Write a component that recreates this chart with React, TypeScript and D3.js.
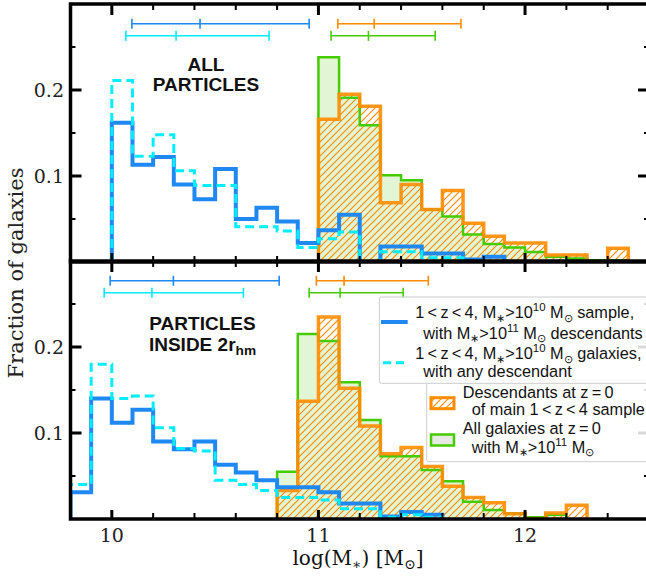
import React from 'react';
import * as d3 from 'd3';

// ---------- data ----------
const BIN_EDGES = [9.8, 9.9, 10.0, 10.1, 10.2, 10.3, 10.4, 10.5, 10.6, 10.7, 10.8, 10.9, 11.0, 11.1, 11.2, 11.3, 11.4, 11.5, 11.6, 11.7, 11.8, 11.9, 12.0, 12.1, 12.2, 12.3, 12.4, 12.5, 12.6];

// top panel: ALL PARTICLES
const TOP_SAMPLE = [0, 0, 0.162, 0.113, 0.122, 0.090, 0.073, 0.108, 0.050, 0.063, 0.047, 0.022, 0.037, 0.055, 0, 0.018, 0.018, 0.010, 0.010, 0.003, 0.006, 0, 0, 0, 0, 0, 0, 0];
const TOP_ANY = [0, 0, 0.211, 0.123, 0.148, 0.106, 0.089, 0.089, 0.041, 0.041, 0.036, 0.017, 0.027, 0.035, 0, 0.012, 0.012, 0.005, 0.005, 0, 0, 0, 0, 0, 0, 0, 0, 0];
const TOP_DESC = [0, 0, 0, 0, 0, 0, 0, 0, 0, 0, 0, 0, 0.166, 0.195, 0.181, 0.069, 0.090, 0.061, 0.083, 0.045, 0.030, 0.022, 0.022, 0.008, 0.008, 0, 0.016, 0];
const TOP_ALLZ0 = [0, 0, 0, 0, 0, 0, 0, 0, 0, 0, 0, 0, 0.238, 0.191, 0.159, 0.101, 0.095, 0.061, 0.053, 0.032, 0.021, 0.017, 0.0115, 0.006, 0.004, 0.002, 0.002, 0];

// bottom panel: PARTICLES INSIDE 2r_hm
const BOT_SAMPLE = [0.031, 0.140, 0.112, 0.127, 0.090, 0.081, 0.090, 0.063, 0.054, 0.045, 0.037, 0.037, 0.031, 0.018, 0.018, 0.003, 0.008, 0.005, 0, 0, 0, 0, 0, 0, 0, 0, 0, 0];
const BOT_ANY = [0.040, 0.180, 0.140, 0.143, 0.106, 0.082, 0.079, 0.045, 0.040, 0.033, 0.025, 0.025, 0.022, 0.012, 0.012, 0.002, 0.005, 0.002, 0, 0, 0, 0, 0, 0, 0, 0, 0, 0];
const BOT_DESC = [0, 0, 0, 0, 0, 0, 0, 0, 0, 0, 0.033, 0.137, 0.235, 0.152, 0.108, 0.076, 0.083, 0.061, 0.038, 0.025, 0.019, 0.006, 0, 0.007, 0.016, 0, 0, 0];
const BOT_ALLZ0 = [0, 0, 0, 0, 0, 0, 0, 0, 0, 0, 0.055, 0.215, 0.207, 0.159, 0.115, 0.073, 0.073, 0.057, 0.044, 0.020, 0.0105, 0.0066, 0.002, 0.005, 0, 0, 0, 0];

// error bars: [low, median, high] and their heights
const ERR_ROW_Y = [0.277, 0.263];
const TOP_ERR_SAMPLE = [10.097, 10.427, 10.955];
const TOP_ERR_ANY = [10.068, 10.311, 10.761];
const TOP_ERR_DESC = [11.094, 11.27, 11.69];
const TOP_ERR_ALLZ0 = [11.061, 11.242, 11.565];
const BOT_ERR_SAMPLE = [9.992, 10.298, 10.81];
const BOT_ERR_ANY = [9.963, 10.194, 10.637];
const BOT_ERR_DESC = [10.99, 11.124, 11.532];
const BOT_ERR_ALLZ0 = [10.955, 11.105, 11.41];

const X_MAJOR = [10, 11, 12];
const X_MINOR = [10.2, 10.4, 10.6, 10.8, 11.2, 11.4, 11.6, 11.8, 12.2, 12.4];
const Y_MAJOR = [0.1, 0.2];
const Y_MINOR = [0.05, 0.15, 0.25];
const X_DOMAIN = [9.8, 12.6];
const Y_DOMAIN = [0, 0.3];

// ---------- style ----------
const BLUE = '#1f88f2';
const CYAN = '#00eeff';
const ORANGE = '#ff8c00';
const GREEN = '#44cc00';
const GREEN_FILL = '#e2f6d6';
const SERIF = '"DejaVu Serif", serif';
const SANS = '"Liberation Sans", Arial, sans-serif';

const W = 646, H = 576;
const X0 = 70.5, X1 = 649;
const x = d3.scaleLinear().domain(X_DOMAIN).range([X0, X1]);

type Seg = { t: string; k?: 'sup' | 'sub' };

function Rich({ x, y, segs, size, family, anchor, weight, subScale = 0.7 }: any) {
  let cur = 0;
  return (
    <text x={x} y={y} fontSize={size} fontFamily={family} textAnchor={anchor || 'start'} fontWeight={weight || 'normal'} fill="#111">
      {segs.map((s: Seg, i: number) => {
        const target = s.k === 'sup' ? -0.42 * size : s.k === 'sub' ? 0.22 * size : 0;
        const dy = target - cur;
        cur = target;
        return (
          <tspan key={i} dy={dy} fontSize={s.k ? size * subScale : size}>{s.t}</tspan>
        );
      })}
    </text>
  );
}

function stepPoints(vals: number[]) {
  const i0 = vals.findIndex((v) => v > 0);
  let i1 = vals.length - 1;
  while (i1 > 0 && !(vals[i1] > 0)) i1--;
  const pts: [number, number][] = [[BIN_EDGES[i0], 0]];
  for (let k = i0; k <= i1; k++) {
    pts.push([BIN_EDGES[k], vals[k]]);
    pts.push([BIN_EDGES[k + 1], vals[k]]);
  }
  pts.push([BIN_EDGES[i1 + 1], 0]);
  return pts;
}

function ErrBar({ vals, yv, y, color }: any) {
  const yy = y(yv);
  return (
    <g stroke={color} strokeWidth={1.6}>
      <line x1={x(vals[0])} x2={x(vals[2])} y1={yy} y2={yy} />
      {vals.map((v: number, i: number) => (
        <line key={i} x1={x(v)} x2={x(v)} y1={yy - 5} y2={yy + 5} />
      ))}
    </g>
  );
}

function Panel({ id, top, bottom, sample, any, desc, allz0, errs }: any) {
  const y = d3.scaleLinear().domain(Y_DOMAIN).range([bottom, top]);
  const line = d3.line<[number, number]>().x((d) => x(d[0])).y((d) => y(d[1]));
  const area = (v: number[]) => line(stepPoints(v)) + 'Z';
  return (
    <g>
      <defs>
        <clipPath id={`clip-${id}`}>
          <rect x={X0} y={top} width={X1 - X0} height={bottom - top} />
        </clipPath>
      </defs>
      <g clipPath={`url(#clip-${id})`}>
        <path d={area(allz0)} fill={GREEN_FILL} stroke="none" />
        <path d={area(desc)} fill="url(#hatch)" stroke="none" />
        <path d={line(stepPoints(allz0)) || ''} fill="none" stroke={GREEN} strokeWidth={2.5} />
        <path d={line(stepPoints(desc)) || ''} fill="none" stroke={ORANGE} strokeWidth={3.5} strokeOpacity={0.9} />
        <path d={line(stepPoints(sample)) || ''} fill="none" stroke={BLUE} strokeWidth={4} />
        <path d={line(stepPoints(any)) || ''} fill="none" stroke={CYAN} strokeWidth={3} strokeDasharray="9,5" />
      </g>
      <ErrBar vals={errs[0]} yv={ERR_ROW_Y[0]} y={y} color={BLUE} />
      <ErrBar vals={errs[1]} yv={ERR_ROW_Y[1]} y={y} color={CYAN} />
      <ErrBar vals={errs[2]} yv={ERR_ROW_Y[0]} y={y} color={ORANGE} />
      <ErrBar vals={errs[3]} yv={ERR_ROW_Y[1]} y={y} color={GREEN} />
      {/* ticks */}
      <g stroke="#000">
        {X_MAJOR.map((t) => (
          <g key={'xM' + t} strokeWidth={3}>
            <line x1={x(t)} x2={x(t)} y1={top} y2={top + 11} />
            <line x1={x(t)} x2={x(t)} y1={bottom} y2={bottom - 9} />
          </g>
        ))}
        {X_MINOR.map((t) => (
          <g key={'xm' + t} strokeWidth={2}>
            <line x1={x(t)} x2={x(t)} y1={top} y2={top + 6} />
            <line x1={x(t)} x2={x(t)} y1={bottom} y2={bottom - 6} />
          </g>
        ))}
        {Y_MAJOR.map((t) => (
          <g key={'yM' + t} strokeWidth={3}>
            <line x1={X0} x2={X0 + 11} y1={y(t)} y2={y(t)} />
            <line x1={X1} x2={X1 - 11} y1={y(t)} y2={y(t)} />
          </g>
        ))}
        {Y_MINOR.map((t) => (
          <g key={'ym' + t} strokeWidth={2}>
            <line x1={X0} x2={X0 + 5} y1={y(t)} y2={y(t)} />
            <line x1={X1} x2={X1 - 5} y1={y(t)} y2={y(t)} />
          </g>
        ))}
      </g>
      {Y_MAJOR.map((t) => (
        <text key={'yl' + t} x={64} y={y(t)} dy="0.36em" textAnchor="end" fontFamily={SERIF} fontSize={19} fill="#222">
          {d3.format('.1f')(t)}
        </text>
      ))}
      <rect x={X0} y={top} width={X1 - X0} height={bottom - top} fill="none" stroke="#000" strokeWidth={3.5} />
    </g>
  );
}

const TS = '\u2009';
const LEG1: Seg[][] = [
  [{ t: `1${TS}<${TS}z${TS}<${TS}4, M` }, { t: '∗', k: 'sub' }, { t: '>10' }, { t: '10', k: 'sup' }, { t: ' M' }, { t: '⊙', k: 'sub' }, { t: ' sample,' }],
  [{ t: 'with M' }, { t: '∗', k: 'sub' }, { t: '>10' }, { t: '11', k: 'sup' }, { t: ' M' }, { t: '⊙', k: 'sub' }, { t: ' descendants' }],
  [{ t: `1${TS}<${TS}z${TS}<${TS}4, M` }, { t: '∗', k: 'sub' }, { t: '>10' }, { t: '10', k: 'sup' }, { t: ' M' }, { t: '⊙', k: 'sub' }, { t: ' galaxies,' }],
  [{ t: 'with any descendant' }],
];
const LEG2: Seg[][] = [
  [{ t: `Descendants at z${TS}=${TS}0` }],
  [{ t: `of main 1${TS}<${TS}z${TS}<${TS}4 sample` }],
  [{ t: `All galaxies at z${TS}=${TS}0` }],
  [{ t: 'with M' }, { t: '∗', k: 'sub' }, { t: '>10' }, { t: '11', k: 'sup' }, { t: ' M' }, { t: '⊙', k: 'sub' }],
];

export default function App() {
  const LS = 16.3;
  return (
    <svg width={W} height={H} style={{ position: 'absolute', left: 0, top: 0, background: '#fff' }} xmlns="http://www.w3.org/2000/svg">
      <defs>
        <pattern id="hatch" patternUnits="userSpaceOnUse" width="7" height="7">
          <path d="M-1,1 l2,-2 M0,7 l7,-7 M6,8 l2,-2" stroke={ORANGE} strokeWidth={1.2} />
        </pattern>
      </defs>
      <rect x={0} y={0} width={W} height={H} fill="#fff" />
      <Panel id="top" top={4} bottom={262} sample={TOP_SAMPLE} any={TOP_ANY} desc={TOP_DESC} allz0={TOP_ALLZ0}
        errs={[TOP_ERR_SAMPLE, TOP_ERR_ANY, TOP_ERR_DESC, TOP_ERR_ALLZ0]} />
      <Panel id="bot" top={261} bottom={519} sample={BOT_SAMPLE} any={BOT_ANY} desc={BOT_DESC} allz0={BOT_ALLZ0}
        errs={[BOT_ERR_SAMPLE, BOT_ERR_ANY, BOT_ERR_DESC, BOT_ERR_ALLZ0]} />

      {/* panel titles */}
      <text x={206} y={70.7} textAnchor="middle" fontFamily={SANS} fontWeight="bold" fontSize={19} fill="#111">ALL</text>
      <text x={206} y={90.7} textAnchor="middle" fontFamily={SANS} fontWeight="bold" fontSize={19} fill="#111">PARTICLES</text>
      <text x={202.5} y={330} textAnchor="middle" fontFamily={SANS} fontWeight="bold" fontSize={19} fill="#111">PARTICLES</text>
      <Rich x={202.5} y={350.7} anchor="middle" family={SANS} weight="bold" size={19} subScale={0.72}
        segs={[{ t: 'INSIDE 2r' }, { t: 'hm', k: 'sub' }]} />

      {/* x tick labels */}
      {X_MAJOR.map((t) => (
        <text key={'xl' + t} x={x(t)} y={542.3} textAnchor="middle" fontFamily={SERIF} fontSize={19} fill="#222">{t}</text>
      ))}
      <Rich x={358} y={565} anchor="middle" family={SERIF} size={20} subScale={0.7}
        segs={[{ t: 'log(M' }, { t: '∗', k: 'sub' }, { t: ') [M' }, { t: '⊙', k: 'sub' }, { t: ']' }]} />
      <text transform="translate(23,273) rotate(-90)" textAnchor="middle" fontFamily={SERIF} fontSize={21} fill="#222">Fraction of galaxies</text>

      {/* legend 2 (behind) */}
      <rect x={426.7} y={380} width={230} height={81.7} fill="#fff" fillOpacity={0.85} stroke="#cccccc" strokeWidth={1} rx={2} />
      <rect x={431} y={397.7} width={23} height={11} fill="url(#hatch)" stroke={ORANGE} strokeWidth={3} />
      <rect x={431} y={434.5} width={23} height={11} fill="#e6e8e4" stroke={GREEN} strokeWidth={2.5} />
      <Rich x={462.7} y={397.7} family={SANS} size={LS} segs={LEG2[0]} />
      <Rich x={471.7} y={414.5} family={SANS} size={LS} segs={LEG2[1]} />
      <Rich x={462.7} y={434.3} family={SANS} size={LS} segs={LEG2[2]} />
      <Rich x={471.7} y={452.7} family={SANS} size={LS} segs={LEG2[3]} />

      {/* legend 1 */}
      <rect x={379.3} y={297} width={280} height={86.3} fill="#fff" fillOpacity={0.85} stroke="#cccccc" strokeWidth={1} rx={2} />
      <line x1={381} x2={407.7} y1={322} y2={322} stroke={BLUE} strokeWidth={4} />
      <line x1={383} x2={407.7} y1={362.7} y2={362.7} stroke={CYAN} strokeWidth={3} strokeDasharray="8,5" />
      <Rich x={415.3} y={318} family={SANS} size={LS} segs={LEG1[0]} />
      <Rich x={423.3} y={338.7} family={SANS} size={LS} segs={LEG1[1]} />
      <Rich x={415.3} y={359.3} family={SANS} size={LS} segs={LEG1[2]} />
      <Rich x={423.3} y={376.5} family={SANS} size={LS} segs={LEG1[3]} />
    </svg>
  );
}
